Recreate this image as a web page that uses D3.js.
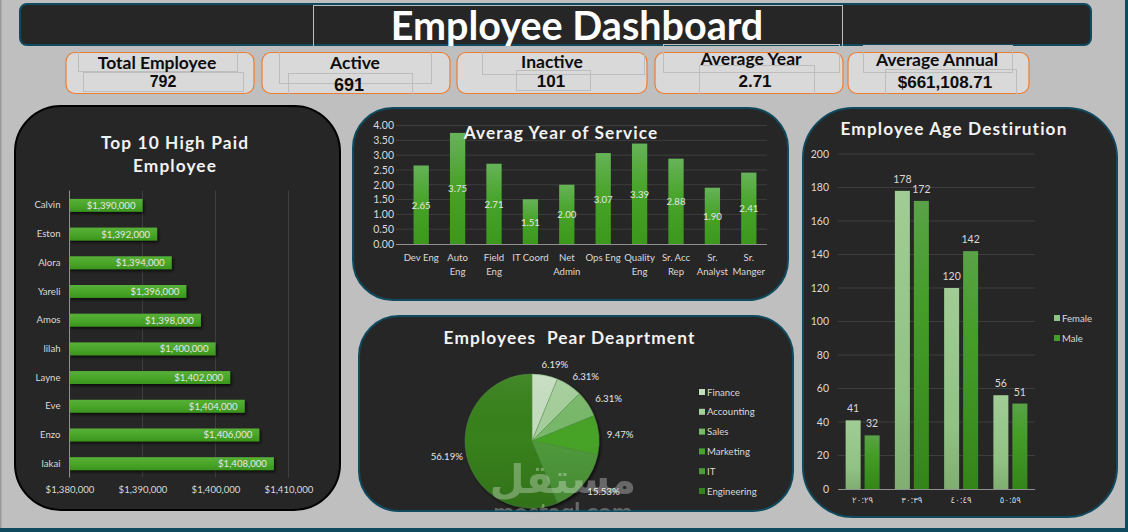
<!DOCTYPE html>
<html>
<head>
<meta charset="utf-8">
<title>Employee Dashboard</title>
<script src="https://d3js.org/d3.v7.min.js"></script>
<style>
html, body { margin: 0; padding: 0; background: #bfbfbf; overflow: hidden; }
svg { display: block; }
text { font-family: Lato, "Noto Sans", sans-serif; fill: #d9d9d9; }
.panel-title { font-weight: 700; font-size: 17.3px; fill: #f2f2f2; letter-spacing: 1.1px; text-anchor: middle; }
.kpi-label { font-weight: 700; font-size: 17.5px; fill: #0d0d0d; text-anchor: middle; }
.kpi-value { font-family: "Liberation Sans", Arial, sans-serif; font-weight: 700; fill: #0d0d0d; text-anchor: middle; }
.tick-text { font-size: 9.6px; }
.bar-label { font-size: 9.6px; fill: #e6e6e6; }
.axis path, .axis line { stroke: none; }
</style>
</head>
<body>
<script>
// Data
var kpiLabels = ["Total Employee", "Active", "Inactive", "Average Year", "Average Annual"];
var kpiValues = ["792", "691", "101", "2.71", "$661,108.71"];

var paidNames = ["Calvin", "Eston", "Alora", "Yareli", "Amos", "lilah", "Layne", "Eve", "Enzo", "lakai"];
var paidSalary = [1390000, 1392000, 1394000, 1396000, 1398000, 1400000, 1402000, 1404000, 1406000, 1408000];
var paidTicks = [1380000, 1390000, 1400000, 1410000];

var serviceRoles = ["Dev Eng", "Auto\nEng", "Field\nEng", "IT Coord", "Net\nAdmin", "Ops Eng", "Quality\nEng", "Sr. Acc\nRep", "Sr.\nAnalyst", "Sr.\nManger"];
var serviceYears = [2.65, 3.75, 2.71, 1.51, 2.00, 3.07, 3.39, 2.88, 1.90, 2.41];
var serviceTicks = [0, 0.5, 1, 1.5, 2, 2.5, 3, 3.5, 4];

var deptNames = ["Finance", "Accounting", "Sales", "Marketing", "IT", "Engineering"];
var deptShare = [6.19, 6.31, 6.31, 9.47, 15.53, 56.19];
var deptColors = ["#c6dec0", "#a5cf9b", "#79b96b", "#46a326", "#4f9a3a", "#37811f"];

var ageGroups = ["٢٠:٢٩", "٣٠:٣٩", "٤٠:٤٩", "٥٠:٥٩"];
var ageSeries = ["Female", "Male"];
var ageFemale = [41, 178, 120, 56];
var ageMale = [32, 172, 142, 51];
var ageTicks = [0, 20, 40, 60, 80, 100, 120, 140, 160, 180, 200];

var W = 1128, H = 532;
var teal = "#0f4a5f", panelFill = "#262626", gridColor = "#3e3e3e", axisColor = "#8f8f8f";

var svg = d3.select("body").append("svg").attr("width", W).attr("height", H);
var defs = svg.append("defs");

function vGrad(id, stops) {
    var g = defs.append("linearGradient").attr("id", id)
        .attr("x1", 0).attr("y1", 0).attr("x2", 0).attr("y2", 1);
    stops.forEach(function(s) {
        g.append("stop").attr("offset", s[0]).attr("stop-color", s[1]).attr("stop-opacity", s[2] === undefined ? 1 : s[2]);
    });
}
vGrad("hbar", [[0, "#58b038"], [0.5, "#4aa62a"], [1, "#3b941d"]]);
vGrad("col", [[0, "#66b358"], [0.45, "#48a42a"], [1, "#3c981b"]]);
vGrad("female", [[0, "#a0cd95"], [0.7, "#90c283"], [1, "#7fae70"]]);
vGrad("male", [[0, "#5aa248"], [0.35, "#459e28"], [1, "#348518"]]);
vGrad("pieShade", [[0, "#ffffff", 0.06], [0.5, "#000000", 0], [1, "#000000", 0.12]]);

var shadow = defs.append("filter").attr("id", "shadow")
    .attr("x", "-20%").attr("y", "-20%").attr("width", "150%").attr("height", "160%");
shadow.append("feDropShadow").attr("dx", 1.5).attr("dy", 2).attr("stdDeviation", 1.5)
    .attr("flood-color", "#000").attr("flood-opacity", 0.7);
defs.append("clipPath").attr("id", "markClip").append("rect")
    .attr("width", W).attr("height", 510.5);

// page edges
svg.append("rect").attr("width", 1.5).attr("height", H).attr("fill", "#9a9a9a");
svg.append("rect").attr("x", 1125).attr("width", 3).attr("height", H).attr("fill", teal);
svg.append("rect").attr("y", 528).attr("width", W).attr("height", 4).attr("fill", teal);

function panel(x0, y0, x1, y1, r, stroke) {
    svg.append("rect").attr("x", x0).attr("y", y0).attr("width", x1 - x0).attr("height", y1 - y0)
        .attr("rx", r).attr("ry", r).attr("fill", panelFill).attr("stroke", stroke).attr("stroke-width", 2);
}

// header
panel(20, 4, 1091, 45, 7, teal);
svg.append("text").attr("x", 577).attr("y", 40).attr("text-anchor", "middle")
    .style("font-size", "39.5px").style("font-weight", 700).style("fill", "#fff").text("Employee Dashboard");

// KPI cards, with the stray text box outlines left in the original
var kpiCards = [[66, 254], [262, 450], [457, 647], [655, 843], [848, 1029]];
var kpiLabelPos = [[157, 69], [355, 69], [552, 68], [751, 65], [937, 66]];
var kpiValuePos = [[163, 87, 16], [349, 91, 18], [551, 87, 17], [755, 87, 17], [945, 88, 17]];
var strayBoxes = [
    [313, 5, 842, 46], [78, 46, 237, 71], [83, 72, 243, 91], [279, 46, 431, 83], [288, 73, 412, 94],
    [482, 46, 644, 74], [516, 70, 590, 90], [663, 44, 839, 72], [699, 65, 814, 94], [863, 45, 1012, 72], [885, 69, 1016, 94]
];
svg.selectAll(".kpi").data(kpiCards).enter().append("rect").attr("class", "kpi")
    .attr("x", function(d) { return d[0]; }).attr("y", 52.5)
    .attr("width", function(d) { return d[1] - d[0]; }).attr("height", 41)
    .attr("rx", 9).attr("fill", "#d9d9d9").attr("stroke", "#ed7d31").attr("stroke-width", 1.2);
svg.selectAll(".stray").data(strayBoxes).enter().append("rect").attr("class", "stray")
    .attr("x", function(d) { return d[0] + 0.5; }).attr("y", function(d) { return d[1] + 0.5; })
    .attr("width", function(d) { return d[2] - d[0]; }).attr("height", function(d) { return d[3] - d[1]; })
    .attr("fill", "none").attr("stroke", "#bdbdbd").attr("stroke-width", 1);
svg.selectAll(".kpi-label").data(kpiLabels).enter().append("text").attr("class", "kpi-label")
    .attr("x", function(d, i) { return kpiLabelPos[i][0]; }).attr("y", function(d, i) { return kpiLabelPos[i][1]; })
    .text(function(d) { return d; });
svg.selectAll(".kpi-value").data(kpiValues).enter().append("text").attr("class", "kpi-value")
    .attr("x", function(d, i) { return kpiValuePos[i][0]; }).attr("y", function(d, i) { return kpiValuePos[i][1]; })
    .style("font-size", function(d, i) { return kpiValuePos[i][2] + "px"; })
    .text(function(d) { return d; });

// Top 10 high paid
panel(15, 106, 340, 510, 46, "#000");
svg.append("text").attr("class", "panel-title").attr("x", 175).attr("y", 149).text("Top 10 High Paid");
svg.append("text").attr("class", "panel-title").attr("x", 175).attr("y", 172).text("Employee");

var xPaid = d3.scaleLinear().domain([1380000, 1410000]).range([69.5, 288.5]);
var yPaid = d3.scaleBand().domain(paidNames).range([191, 478]).paddingInner(0.55).paddingOuter(0.275);
var dollar = d3.format("$,");

svg.append("g").selectAll("line").data(paidTicks.slice(1)).enter().append("line")
    .attr("x1", xPaid).attr("x2", xPaid).attr("y1", 190.5).attr("y2", 477.5)
    .attr("stroke", gridColor);
svg.append("g").selectAll("rect").data(paidNames).enter().append("rect")
    .attr("x", xPaid(1380000)).attr("y", function(d) { return yPaid(d); })
    .attr("width", function(d, i) { return xPaid(paidSalary[i]) - xPaid(1380000); })
    .attr("height", yPaid.bandwidth()).attr("fill", "url(#hbar)").attr("filter", "url(#shadow)");
svg.append("line").attr("x1", 69.5).attr("x2", 69.5).attr("y1", 190.5).attr("y2", 477.5).attr("stroke", axisColor);
svg.append("g").selectAll("text").data(paidNames).enter().append("text").attr("class", "bar-label")
    .attr("x", function(d, i) { return xPaid(paidSalary[i]) - 7; })
    .attr("y", function(d) { return yPaid(d) + yPaid.bandwidth() / 2 + 3.5; })
    .attr("text-anchor", "end").text(function(d, i) { return dollar(paidSalary[i]); });

svg.append("g").attr("class", "axis").attr("transform", "translate(0,477.5)")
    .call(d3.axisBottom(xPaid).tickValues(paidTicks).tickFormat(dollar).tickSize(0).tickPadding(9))
    .selectAll("text").attr("class", "tick-text");
svg.append("g").attr("class", "axis").attr("transform", "translate(69.5,0)")
    .call(d3.axisLeft(yPaid).tickSize(0).tickPadding(9))
    .selectAll("text").attr("class", "tick-text");

// Average year of service
panel(353, 108, 788, 300, 40, teal);

var xServ = d3.scaleBand().domain(serviceRoles).range([403, 767]).paddingInner(0.58).paddingOuter(0.29);
var yServ = d3.scaleLinear().domain([0, 4]).range([244, 125.5]);

svg.append("g").selectAll("line").data(serviceTicks.slice(1)).enter().append("line")
    .attr("x1", 396).attr("x2", 767).attr("y1", yServ).attr("y2", yServ).attr("stroke", gridColor);
svg.append("g").selectAll("rect").data(serviceRoles).enter().append("rect")
    .attr("x", function(d) { return xServ(d); }).attr("y", function(d, i) { return yServ(serviceYears[i]); })
    .attr("width", xServ.bandwidth()).attr("height", function(d, i) { return 244 - yServ(serviceYears[i]); })
    .attr("fill", "url(#col)");
svg.append("line").attr("x1", 396).attr("x2", 767).attr("y1", 244.5).attr("y2", 244.5).attr("stroke", axisColor);
svg.append("g").selectAll("text").data(serviceRoles).enter().append("text").attr("class", "bar-label")
    .attr("x", function(d) { return xServ(d) + xServ.bandwidth() / 2; })
    .attr("y", function(d, i) { return (244 + yServ(serviceYears[i])) / 2 + 4; })
    .attr("text-anchor", "middle").text(function(d, i) { return serviceYears[i].toFixed(2); });

svg.append("g").attr("class", "axis").attr("transform", "translate(394,0)")
    .call(d3.axisLeft(yServ).tickValues(serviceTicks).tickFormat(d3.format(".2f")).tickSize(0).tickPadding(0))
    .selectAll("text").attr("class", "tick-text").style("font-size", "10.5px");
svg.append("g").selectAll("g").data(serviceRoles).enter().append("text").attr("class", "tick-text")
    .attr("text-anchor", "middle").attr("y", 261)
    .each(function(d) {
        var cx = xServ(d) + xServ.bandwidth() / 2;
        d3.select(this).selectAll("tspan").data(d.split("\n")).enter().append("tspan")
            .attr("x", cx).attr("dy", function(t, i) { return i ? 13.5 : 0; }).text(function(t) { return t; });
    });
svg.append("text").attr("class", "panel-title").attr("x", 561).attr("y", 139).text("Averag Year of Service");

// Employees per department
panel(359, 316, 793, 511, 40, teal);
svg.append("text").attr("class", "panel-title").attr("x", 569.5).attr("y", 344).text("Employees  Pear Deaprtment").attr("xml:space", "preserve");

var pieR = 67, pieX = 532, pieY = 441;
var pie = d3.pie().sort(null).value(function(d) { return d; });
var arc = d3.arc().innerRadius(0).outerRadius(pieR);
var slices = pie(deptShare);
var gPie = svg.append("g").attr("transform", "translate(" + pieX + "," + pieY + ")");
var gSlices = gPie.append("g").attr("filter", "url(#shadow)");
gSlices.selectAll("path").data(slices).enter().append("path")
    .attr("d", arc).attr("fill", function(d, i) { return deptColors[i]; })
    .attr("stroke", "#5c8f52").attr("stroke-width", 0.4);
gPie.append("circle").attr("r", pieR).attr("fill", "url(#pieShade)");

// site watermark, it sits under the percent labels and stops at the panel edge
var mark = svg.append("g").attr("clip-path", "url(#markClip)").style("opacity", 0.3);
mark.append("text").attr("x", 563).attr("y", 493).attr("text-anchor", "middle")
    .style("font-family", "'DejaVu Sans'").style("font-weight", 700).style("font-size", "40px")
    .style("fill", "#fff").text("مستقل");
mark.append("text").attr("x", 563).attr("y", 521).attr("text-anchor", "middle")
    .style("font-weight", 700).style("font-size", "24.5px").style("fill", "#fff").text("mostaql.com");

gPie.selectAll("text").data(slices).enter().append("text").attr("class", "bar-label")
    .attr("text-anchor", "middle")
    .attr("x", function(d) {
        var a = (d.startAngle + d.endAngle) / 2;
        return Math.sin(a) * 88 + 6 * Math.abs(Math.cos(a));
    })
    .attr("y", function(d) { return -Math.cos((d.startAngle + d.endAngle) / 2) * 78 + 4; })
    .text(function(d) { return d.value.toFixed(2) + "%"; });

var yDeptLegend = d3.scalePoint().domain(deptNames).range([392, 491]);
var gDept = svg.append("g").selectAll("g").data(deptNames).enter().append("g")
    .attr("transform", function(d) { return "translate(699," + yDeptLegend(d) + ")"; });
gDept.append("rect").attr("y", -3).attr("width", 6).attr("height", 6)
    .attr("fill", function(d, i) { return deptColors[i]; });
gDept.append("text").attr("class", "tick-text").attr("x", 8).attr("y", 3.5).text(function(d) { return d; });

// Employee age distribution
panel(803, 108, 1117, 517, 50, teal);
svg.append("text").attr("class", "panel-title").attr("x", 954).attr("y", 135).text("Employee Age Destirution");

var xAge = d3.scaleBand().domain(ageGroups).range([838, 1035]).paddingInner(0.31).paddingOuter(0.155);
var xSub = d3.scaleBand().domain(ageSeries).range([0, xAge.bandwidth()]).paddingInner(0.21);
var yAge = d3.scaleLinear().domain([0, 200]).range([489, 154]);
var ageValues = { Female: ageFemale, Male: ageMale };

svg.append("g").selectAll("line").data(ageTicks.slice(1)).enter().append("line")
    .attr("x1", 838).attr("x2", 1035).attr("y1", yAge).attr("y2", yAge).attr("stroke", gridColor);
ageSeries.forEach(function(s) {
    var g = svg.append("g");
    g.selectAll("rect").data(ageGroups).enter().append("rect")
        .attr("x", function(d) { return xAge(d) + xSub(s); })
        .attr("y", function(d, i) { return yAge(ageValues[s][i]); })
        .attr("width", xSub.bandwidth())
        .attr("height", function(d, i) { return 489 - yAge(ageValues[s][i]); })
        .attr("fill", s == "Female" ? "url(#female)" : "url(#male)");
    g.selectAll("text").data(ageGroups).enter().append("text")
        .attr("text-anchor", "middle").style("font-size", "10.5px")
        .attr("x", function(d) { return xAge(d) + xSub(s) + xSub.bandwidth() / 2; })
        .attr("y", function(d, i) { return yAge(ageValues[s][i]) - 8; })
        .text(function(d, i) { return ageValues[s][i]; });
});
svg.append("line").attr("x1", 838).attr("x2", 1035).attr("y1", 489.5).attr("y2", 489.5).attr("stroke", axisColor);

svg.append("g").attr("class", "axis").attr("transform", "translate(829,0)")
    .call(d3.axisLeft(yAge).tickValues(ageTicks).tickSize(0).tickPadding(0))
    .selectAll("text").attr("class", "tick-text").style("font-size", "10.5px");
svg.append("g").attr("class", "axis").attr("transform", "translate(0,489)")
    .call(d3.axisBottom(xAge).tickSize(0).tickPadding(8))
    .selectAll("text").attr("class", "tick-text")
    .style("font-family", "'DejaVu Sans'").style("font-size", "8.5px");

var yAgeLegend = d3.scalePoint().domain(ageSeries).range([318, 338]);
var gAge = svg.append("g").selectAll("g").data(ageSeries).enter().append("g")
    .attr("transform", function(d) { return "translate(1054," + yAgeLegend(d) + ")"; });
gAge.append("rect").attr("y", -3).attr("width", 6).attr("height", 6)
    .attr("fill", function(d) { return d == "Female" ? "#90c283" : "#459e28"; });
gAge.append("text").attr("class", "tick-text").attr("x", 8).attr("y", 3.5).text(function(d) { return d; });
</script>
</body>
</html>
